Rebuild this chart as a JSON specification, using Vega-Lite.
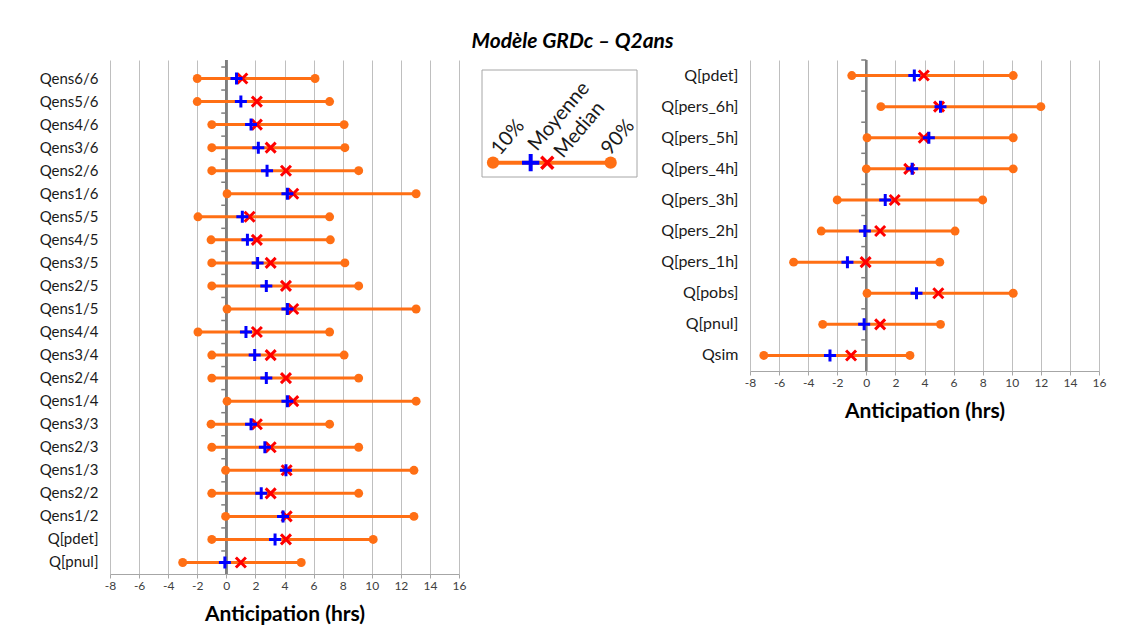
{
  "$schema": "https://vega.github.io/schema/vega-lite/v6.json",
  "background": "white",
  "padding": {"left": 39, "top": 31, "right": 10, "bottom": 5},
  "title": {"text": "Modèle GRDc – Q2ans", "font": "Lato", "fontSize": 21, "fontStyle": "italic", "fontWeight": "bold", "anchor": "middle", "offset": 7, "color": "#000000"},
  "config": {
    "font": "Lato",
    "view": {"stroke": null},
    "axisX": {"values": [-8, -6, -4, -2, 0, 2, 4, 6, 8, 10, 12, 14, 16], "grid": true, "gridColor": "#BFBFBF", "gridWidth": 1, "domainColor": "#A6A6A6", "tickColor": "#A6A6A6", "tickSize": 4, "labelFont": "Lato", "labelFontSize": 12, "labelColor": "#404040", "labelFlush": false, "labelExpr": "replace(datum.label, '\u2212', '-')", "titleFont": "Lato", "titleFontSize": 21, "titleFontWeight": "bold", "titleColor": "#000000", "titlePadding": 12},
    "axisY": {"domain": false, "ticks": false, "grid": false, "labelFont": "Lato", "labelFontSize": 15, "labelColor": "#1a1a1a", "labelPadding": 12, "title": null}
  },
  "datasets": {
    "left": [
      {"name": "Qens6/6", "p10": -2, "mean": 0.7, "median": 1.1, "p90": 6.1},
      {"name": "Qens5/6", "p10": -2, "mean": 1.0, "median": 2.1, "p90": 7.1},
      {"name": "Qens4/6", "p10": -1, "mean": 1.7, "median": 2.1, "p90": 8.1},
      {"name": "Qens3/6", "p10": -1, "mean": 2.2, "median": 3.05, "p90": 8.15},
      {"name": "Qens2/6", "p10": -1, "mean": 2.8, "median": 4.1, "p90": 9.1},
      {"name": "Qens1/6", "p10": 0.05, "mean": 4.2, "median": 4.6, "p90": 13.05},
      {"name": "Qens5/5", "p10": -1.95, "mean": 1.1, "median": 1.6, "p90": 7.1},
      {"name": "Qens4/5", "p10": -1.05, "mean": 1.45, "median": 2.1, "p90": 7.15},
      {"name": "Qens3/5", "p10": -1, "mean": 2.15, "median": 3.05, "p90": 8.15},
      {"name": "Qens2/5", "p10": -1, "mean": 2.75, "median": 4.1, "p90": 9.1},
      {"name": "Qens1/5", "p10": 0.05, "mean": 4.2, "median": 4.6, "p90": 13.05},
      {"name": "Qens4/4", "p10": -1.95, "mean": 1.35, "median": 2.1, "p90": 7.1},
      {"name": "Qens3/4", "p10": -1, "mean": 1.95, "median": 3.05, "p90": 8.1},
      {"name": "Qens2/4", "p10": -1, "mean": 2.75, "median": 4.1, "p90": 9.1},
      {"name": "Qens1/4", "p10": 0.05, "mean": 4.2, "median": 4.6, "p90": 13.05},
      {"name": "Qens3/3", "p10": -1.05, "mean": 1.7, "median": 2.1, "p90": 7.1},
      {"name": "Qens2/3", "p10": -1, "mean": 2.65, "median": 3.05, "p90": 9.1},
      {"name": "Qens1/3", "p10": -0.05, "mean": 4.1, "median": 4.15, "p90": 12.9},
      {"name": "Qens2/2", "p10": -1, "mean": 2.4, "median": 3.05, "p90": 9.1},
      {"name": "Qens1/2", "p10": -0.05, "mean": 3.9, "median": 4.15, "p90": 12.9},
      {"name": "Q[pdet]", "p10": -1, "mean": 3.35, "median": 4.1, "p90": 10.1},
      {"name": "Q[pnul]", "p10": -3, "mean": -0.1, "median": 1.0, "p90": 5.15}
    ],
    "right": [
      {"name": "Q[pdet]", "p10": -1, "mean": 3.3, "median": 3.95, "p90": 10.1},
      {"name": "Q[pers_6h]", "p10": 1.0, "mean": 5.1, "median": 5.0, "p90": 12.0},
      {"name": "Q[pers_5h]", "p10": 0.05, "mean": 4.3, "median": 3.95, "p90": 10.1},
      {"name": "Q[pers_4h]", "p10": 0, "mean": 3.15, "median": 2.95, "p90": 10.1},
      {"name": "Q[pers_3h]", "p10": -2, "mean": 1.3, "median": 1.95, "p90": 8.0},
      {"name": "Q[pers_2h]", "p10": -3.1, "mean": -0.1, "median": 0.95, "p90": 6.1},
      {"name": "Q[pers_1h]", "p10": -5, "mean": -1.3, "median": -0.05, "p90": 5.05},
      {"name": "Q[pobs]", "p10": 0.05, "mean": 3.45, "median": 4.95, "p90": 10.1},
      {"name": "Q[pnul]", "p10": -3, "mean": -0.15, "median": 0.95, "p90": 5.1},
      {"name": "Qsim", "p10": -7.05, "mean": -2.5, "median": -1.05, "p90": 3.0}
    ],
    "legendBar": [
      {"p10": 7.1, "mean": 31.4, "median": 42.1, "p90": 83, "lvl": 12.25}
    ],
    "legendText": [
      {"label": "10%", "pos": 11.6, "lvl": 17.8},
      {"label": "Moyenne", "pos": 35.5, "lvl": 21.4},
      {"label": "Median", "pos": 52.3, "lvl": 15.4},
      {"label": "90%", "pos": 82.6, "lvl": 17.8}
    ]
  },
  "spacing": 15,
  "hconcat": [
    {
      "width": 349,
      "height": 514,
      "data": {"name": "left"},
      "layer": [
        {"mark": {"type": "rule", "color": "#7F7F7F", "strokeWidth": 1.5}, "encoding": {"x": {"datum": 0, "type": "quantitative", "title": "Anticipation (hrs)", "scale": {"domain": [-8, 16], "nice": false, "zero": false}}}},
        {"mark": {"type": "rule", "color": "#7F7F7F", "strokeWidth": 1.5}, "encoding": {"y": {"field": "name", "type": "nominal", "sort": null, "bandPosition": 0, "scale": {"type": "band", "paddingInner": 0, "paddingOuter": 0.152, "align": 1}}, "x": {"datum": -0.35}, "x2": {"datum": 0}}},
        {"mark": {"type": "rule", "color": "#FF6F14", "strokeWidth": 3}, "encoding": {"y": {"field": "name", "type": "nominal", "sort": null}, "x": {"field": "p10", "type": "quantitative", "title": "Anticipation (hrs)"}, "x2": {"field": "p90"}}},
        {"mark": {"type": "circle", "color": "#FF6F14", "size": 80, "opacity": 1}, "encoding": {"y": {"field": "name", "type": "nominal", "sort": null}, "x": {"field": "p10", "type": "quantitative"}}},
        {"mark": {"type": "circle", "color": "#FF6F14", "size": 80, "opacity": 1}, "encoding": {"y": {"field": "name", "type": "nominal", "sort": null}, "x": {"field": "p90", "type": "quantitative"}}},
        {"mark": {"type": "point", "shape": "M-1,-1L1,1M-1,1L1,-1", "filled": false, "color": "#FF0000", "strokeWidth": 3, "size": 100, "opacity": 1}, "encoding": {"y": {"field": "name", "type": "nominal", "sort": null}, "x": {"field": "median", "type": "quantitative"}}},
        {"mark": {"type": "point", "shape": "M-1,0H1M0,-1V1", "filled": false, "color": "#0000FF", "strokeWidth": 3, "size": 144, "opacity": 1}, "encoding": {"y": {"field": "name", "type": "nominal", "sort": null}, "x": {"field": "mean", "type": "quantitative"}}}
      ]
    },
    {
      "spacing": 21,
      "hconcat": [
        {
          "width": 155,
          "height": 117,
          "data": {"name": "legendBar"},
          "layer": [
            {"mark": {"type": "rect", "fill": null, "fillOpacity": 0, "stroke": "#A6A6A6", "strokeWidth": 1}, "encoding": {"x": {"datum": 0, "type": "quantitative", "scale": {"domain": [0, 100], "nice": false}, "axis": null}, "x2": {"datum": 100}, "y": {"datum": 0, "type": "quantitative", "scale": {"domain": [0, 100], "nice": false}, "axis": null}, "y2": {"datum": 91.45}}},
            {"mark": {"type": "rule", "color": "#FF6F14", "strokeWidth": 4}, "encoding": {"x": {"field": "p10", "type": "quantitative"}, "x2": {"field": "p90"}, "y": {"field": "lvl", "type": "quantitative"}}},
            {"mark": {"type": "circle", "color": "#FF6F14", "size": 150, "opacity": 1}, "encoding": {"x": {"field": "p10", "type": "quantitative"}, "y": {"field": "lvl", "type": "quantitative"}}},
            {"mark": {"type": "circle", "color": "#FF6F14", "size": 150, "opacity": 1}, "encoding": {"x": {"field": "p90", "type": "quantitative"}, "y": {"field": "lvl", "type": "quantitative"}}},
            {"mark": {"type": "point", "shape": "M-1,-1L1,1M-1,1L1,-1", "filled": false, "color": "#FF0000", "strokeWidth": 3.5, "size": 144, "opacity": 1}, "encoding": {"x": {"field": "median", "type": "quantitative"}, "y": {"field": "lvl", "type": "quantitative"}}},
            {"mark": {"type": "point", "shape": "M-1,0H1M0,-1V1", "filled": false, "color": "#0000FF", "strokeWidth": 4, "size": 300, "opacity": 1}, "encoding": {"x": {"field": "mean", "type": "quantitative"}, "y": {"field": "lvl", "type": "quantitative"}}},
            {"data": {"name": "legendText"}, "mark": {"type": "text", "angle": 310, "align": "left", "baseline": "alphabetic", "font": "Lato", "fontSize": 20, "color": "#1a1a1a"}, "encoding": {"x": {"field": "pos", "type": "quantitative"}, "y": {"field": "lvl", "type": "quantitative"}, "text": {"field": "label"}}}
          ]
        },
        {
          "width": 349,
          "height": 311,
          "data": {"name": "right"},
          "layer": [
            {"mark": {"type": "rule", "color": "#7F7F7F", "strokeWidth": 1.5}, "encoding": {"x": {"datum": 0, "type": "quantitative", "title": "Anticipation (hrs)", "scale": {"domain": [-8, 16], "nice": false, "zero": false}}}},
            {"mark": {"type": "rule", "color": "#7F7F7F", "strokeWidth": 1.5}, "encoding": {"y": {"field": "name", "type": "nominal", "sort": null, "bandPosition": 0, "scale": {"type": "band", "paddingInner": 0, "paddingOuter": 0}, "axis": {"labelFontSize": 16}}, "x": {"datum": -0.35}, "x2": {"datum": 0}}},
            {"mark": {"type": "rule", "color": "#FF6F14", "strokeWidth": 3}, "encoding": {"y": {"field": "name", "type": "nominal", "sort": null}, "x": {"field": "p10", "type": "quantitative", "title": "Anticipation (hrs)"}, "x2": {"field": "p90"}}},
            {"mark": {"type": "circle", "color": "#FF6F14", "size": 80, "opacity": 1}, "encoding": {"y": {"field": "name", "type": "nominal", "sort": null}, "x": {"field": "p10", "type": "quantitative"}}},
            {"mark": {"type": "circle", "color": "#FF6F14", "size": 80, "opacity": 1}, "encoding": {"y": {"field": "name", "type": "nominal", "sort": null}, "x": {"field": "p90", "type": "quantitative"}}},
            {"mark": {"type": "point", "shape": "M-1,-1L1,1M-1,1L1,-1", "filled": false, "color": "#FF0000", "strokeWidth": 3, "size": 100, "opacity": 1}, "encoding": {"y": {"field": "name", "type": "nominal", "sort": null}, "x": {"field": "median", "type": "quantitative"}}},
            {"mark": {"type": "point", "shape": "M-1,0H1M0,-1V1", "filled": false, "color": "#0000FF", "strokeWidth": 3, "size": 144, "opacity": 1}, "encoding": {"y": {"field": "name", "type": "nominal", "sort": null}, "x": {"field": "mean", "type": "quantitative"}}}
          ]
        }
      ]
    }
  ]
}
